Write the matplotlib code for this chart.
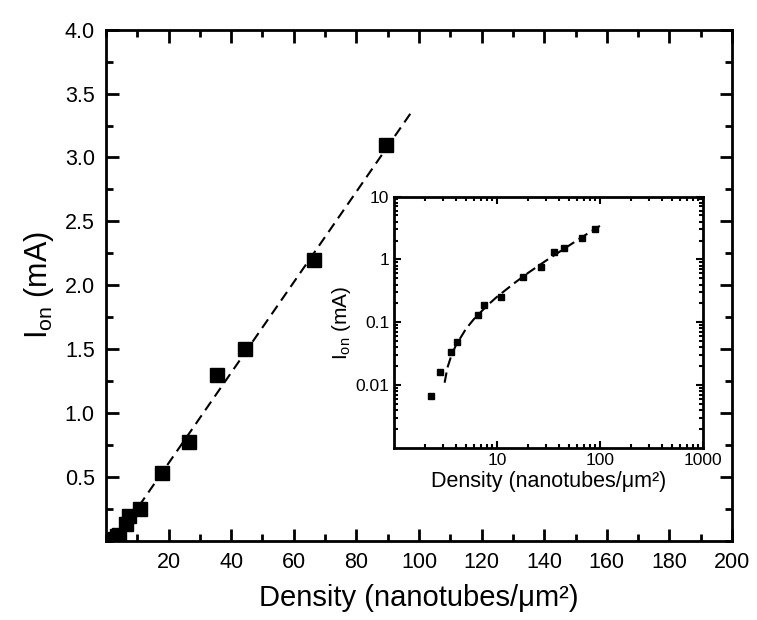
import matplotlib
matplotlib.use("Agg")
import matplotlib.pyplot as plt
from matplotlib.ticker import MultipleLocator, LogLocator, NullFormatter, FixedFormatter, FixedLocator
import numpy as np

# measured points: density (nanotubes/um^2) vs on-current (mA)
density = [2.3, 2.8, 3.6, 4.1, 6.5, 7.5, 11, 18, 26.5, 35.5, 44.5, 66.5, 89.5]
i_on = [0.0068, 0.0165, 0.034, 0.048, 0.13, 0.19, 0.25, 0.53, 0.77, 1.30, 1.50, 2.20, 3.10]

# dashed fit line, main (linear) panel
fit_x = [10.5, 98.0]
fit_y = [0.27, 3.37]

# same fit
fit_log_x = [3.1, 3.3, 3.6, 4.0, 5.0, 6.0, 8.0, 10, 15, 20, 30, 50, 70, 100]
fit_log_y = [0.011, 0.019, 0.0296, 0.0436, 0.079, 0.114, 0.184, 0.255, 0.43, 0.61, 0.96, 1.66, 2.37, 3.42]

plt.rcParams["font.family"] = ["Liberation Sans", "DejaVu Sans"]
plt.rcParams["mathtext.fontset"] = "custom"
plt.rcParams["mathtext.rm"] = "Liberation Sans"
plt.rcParams["mathtext.it"] = "Liberation Sans"


def plot():
    fig = plt.figure(figsize=(7.57, 6.2), dpi=100)
    ax = fig.add_axes([0.140, 0.128, 0.827, 0.824])

    ax.plot(density, i_on, "s", color="black", markersize=9.5, zorder=3)
    ax.plot(fit_x, fit_y, color="black", lw=1.5, dashes=(5, 3))

    ax.set_xlim(0, 200)
    ax.set_ylim(0, 4.0)
    ax.xaxis.set_major_locator(FixedLocator(np.arange(20, 201, 20)))
    ax.xaxis.set_minor_locator(MultipleLocator(10))
    ax.yaxis.set_major_locator(FixedLocator(np.arange(0.5, 4.01, 0.5)))
    ax.yaxis.set_minor_locator(MultipleLocator(0.25))
    ax.set_yticklabels([f"{v:.1f}" for v in np.arange(0.5, 4.01, 0.5)])
    ax.tick_params(which="both", direction="in", top=True, right=True, width=2)
    ax.tick_params(which="major", length=9, labelsize=15.5, pad=8)
    ax.tick_params(which="minor", length=5)
    for s in ax.spines.values():
        s.set_linewidth(2)
    ax.set_xlabel("Density (nanotubes/\u03bcm\u00b2)", fontsize=21, labelpad=8)
    ax.set_ylabel(r"I$_{\rm on}$ (mA)", fontsize=22, labelpad=6)

    # inset on log-log axes
    ins = fig.add_axes([0.5205, 0.277, 0.408, 0.406])
    ins.loglog(density, i_on, "s", color="black", markersize=5, zorder=3)
    ins.loglog(fit_log_x, fit_log_y, color="black", lw=1.5, dashes=(5, 2.5))
    ins.set_xlim(1, 1000)
    ins.set_ylim(0.001, 10)
    ins.xaxis.set_major_locator(FixedLocator([10, 100, 1000]))
    ins.xaxis.set_major_formatter(FixedFormatter(["10", "100", "1000"]))
    ins.xaxis.set_minor_locator(LogLocator(base=10, subs=np.arange(2, 10)))
    ins.xaxis.set_minor_formatter(NullFormatter())
    ins.yaxis.set_major_locator(FixedLocator([0.01, 0.1, 1, 10]))
    ins.yaxis.set_major_formatter(FixedFormatter(["0.01", "0.1", "1", "10"]))
    ins.yaxis.set_minor_locator(LogLocator(base=10, subs=np.arange(2, 10)))
    ins.yaxis.set_minor_formatter(NullFormatter())
    ins.tick_params(which="both", direction="in", top=True, right=True, width=1.5)
    ins.tick_params(which="major", length=5, labelsize=12.5)
    ins.tick_params(which="minor", length=3)
    for s in ins.spines.values():
        s.set_linewidth(2)
    ins.set_xlabel("Density (nanotubes/\u03bcm\u00b2)", fontsize=15.5, labelpad=2)
    ins.set_ylabel(r"I$_{\rm on}$ (mA)", fontsize=15, labelpad=2)

    fig.savefig("out.png", dpi=100)


plot()
